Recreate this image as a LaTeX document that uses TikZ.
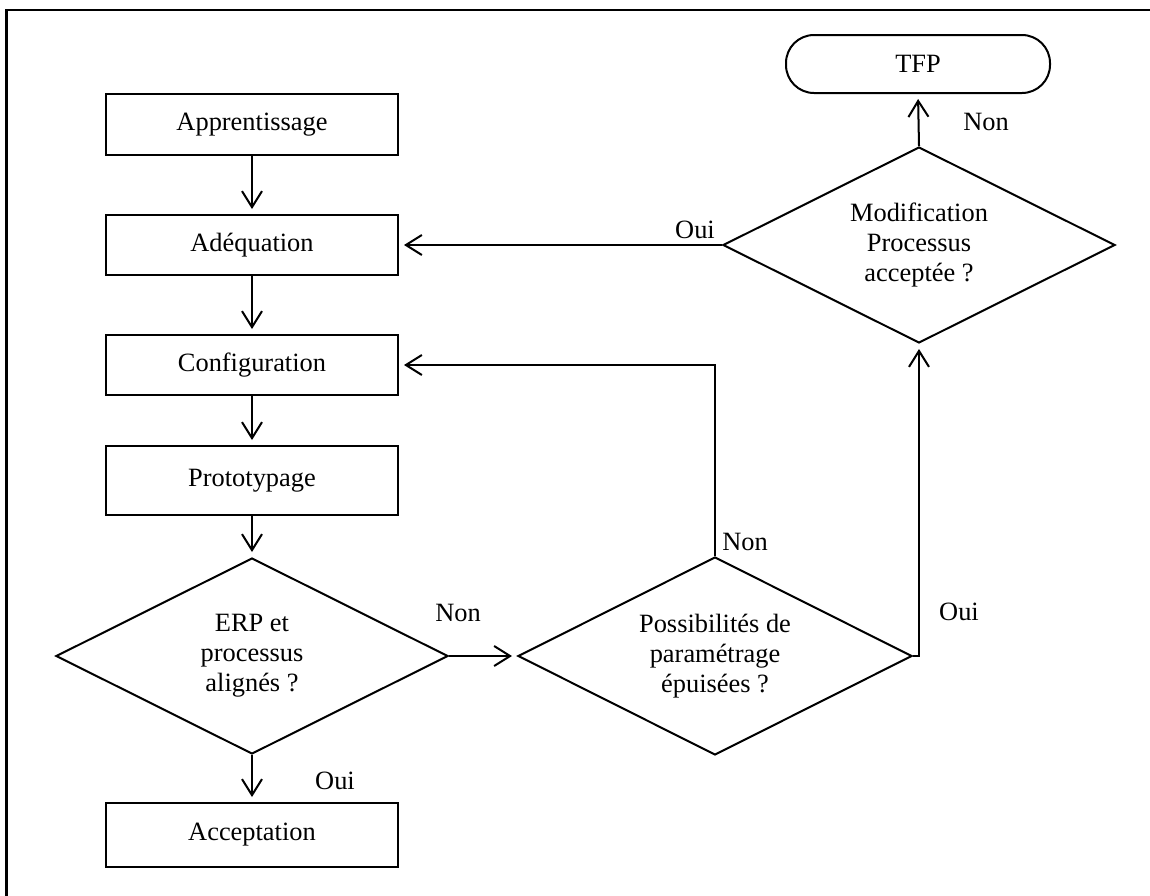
\documentclass[tikz,border=0pt]{standalone}
\usepackage{fontspec}
\setmainfont{Liberation Serif}
\usetikzlibrary{arrows.meta,shapes.geometric}

\begin{document}
\begin{tikzpicture}[x=1pt,y=-1pt,
  every node/.style={font=\fontsize{26.4}{30}\selectfont},
  stepbox/.style={draw,line width=2pt,rectangle,minimum width=292pt,inner sep=0pt},
  choice/.style={draw,line width=2pt,diamond,aspect=2,inner sep=0pt,align=center},
  terminal/.style={draw,line width=2pt,rectangle,rounded corners=28pt,minimum width=264pt,minimum height=58pt,inner sep=0pt},
  flow/.style={line width=2pt,-{Straight Barb[length=16pt,width=20pt]},shorten >=5pt},
  plain/.style={line width=2pt},
  tag/.style={inner sep=0pt}]

\useasboundingbox (0,0) rectangle (1150,895);

% frame
\draw[line width=2.5pt] (6.5,897) -- (6.5,10) -- (1152,10);

% process steps
\node[stepbox,minimum height=61pt] (appr)   at (252,124.5) {Apprentissage};
\node[stepbox,minimum height=60pt] (adeq)   at (252,245)   {Adéquation};
\node[stepbox,minimum height=60pt] (config) at (252,365)   {Configuration};
\node[stepbox,minimum height=69pt] (proto)  at (252,480.5) {Prototypage};
\node[stepbox,minimum height=64pt] (accept) at (252,835)   {Acceptation};

% decisions
\node[choice,minimum width=392pt,minimum height=196pt] (erp)   at (252,656) {ERP et\\processus\\alignés ?};
\node[choice,minimum width=394pt,minimum height=198pt] (poss)  at (715,656) {Possibilités de\\paramétrage\\épuisées ?};
\node[choice,minimum width=392pt,minimum height=196pt] (modif) at (919,245) {Modification\\Processus\\acceptée ?};

% end
\node[terminal] (tfp) at (918,64) {TFP};

% connectors
\draw[flow] (appr.south) -- (adeq.north);
\draw[flow] (adeq.south) -- (config.north);
\draw[flow] (config.south) -- (proto.north);
\draw[flow] (proto.south) -- (erp.north);
\draw[flow] (erp.south) -- (accept.north);
\draw[flow] (erp.east) -- (poss.west);
\draw[flow] (poss.north) |- (config.east);
\draw[flow] (poss.east) -- (poss.east -| modif.south) -- (modif.south);
\draw[flow] (modif.west) -- (adeq.east);
\draw[flow] (modif.north) -- (tfp.south);

% branch labels
\node[tag] (l1) at (458,613) {Non};
\node[tag] (l2) at (335,781) {Oui};
\node[tag] (l3) at (745,542) {Non};
\node[tag] (l4) at (959,612) {Oui};
\node[tag] (l5) at (695,230) {Oui};
\node[tag] (l6) at (986,122) {Non};

\end{tikzpicture}
\end{document}
